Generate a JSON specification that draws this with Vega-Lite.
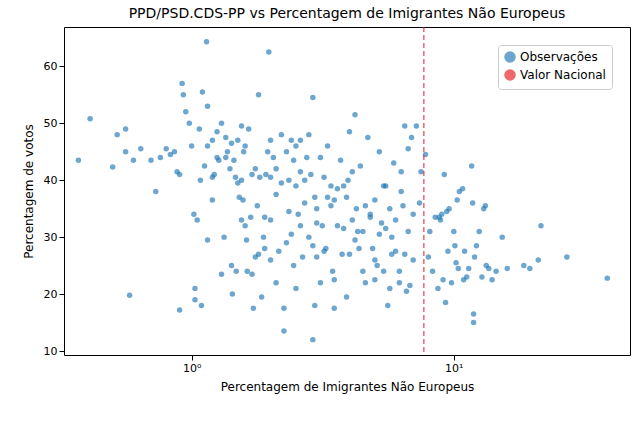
{
  "$schema": "https://vega.github.io/schema/vega-lite/v6.json",
  "width": 566,
  "height": 328,
  "padding": {"left": 22, "top": 6, "right": 8, "bottom": 4},
  "title": {"text": "PPD/PSD.CDS-PP vs Percentagem de Imigrantes Não Europeus", "font": "DejaVu Sans", "fontSize": 14, "fontWeight": "normal", "offset": 6},
  "config": {"view": {"stroke": "black"}, "axis": {"labelFont": "DejaVu Sans", "titleFont": "DejaVu Sans", "labelFontSize": 11, "titleFontSize": 12, "titleFontWeight": "normal", "grid": false, "domain": false, "tickColor": "black", "labelColor": "black", "titleColor": "black", "titlePadding": 8}},
  "layer": [
    {
      "data": {"values": [
        {"x":0.37,"y":43.5},{"x":0.41,"y":50.8},{"x":0.5,"y":42.3},{"x":0.52,"y":48},{"x":0.56,"y":45},{"x":0.56,"y":49},{"x":0.58,"y":19.8},{"x":0.6,"y":43.5},{"x":0.64,"y":45.5},{"x":0.7,"y":43.5},{"x":0.73,"y":38},{"x":0.76,"y":44},{"x":0.8,"y":45.5},{"x":0.83,"y":44.5},{"x":0.86,"y":45},{"x":0.88,"y":41.5},{"x":0.9,"y":17.2},{"x":0.9,"y":41},{"x":0.92,"y":57},{"x":0.93,"y":55},{"x":0.95,"y":52},{"x":0.98,"y":50},{"x":1.0,"y":46},{"x":1.02,"y":34},{"x":1.03,"y":21},{"x":1.03,"y":19},{"x":1.05,"y":33},{"x":1.07,"y":49},{"x":1.08,"y":40},{"x":1.09,"y":18},{"x":1.1,"y":55.5},{"x":1.12,"y":42.5},{"x":1.14,"y":64.3},{"x":1.15,"y":53},{"x":1.15,"y":29.5},{"x":1.2,"y":47},{"x":1.2,"y":40.5},{"x":1.22,"y":41},{"x":1.25,"y":44},{"x":1.27,"y":43.5},{"x":1.3,"y":50},{"x":1.3,"y":23.5},{"x":1.33,"y":30},{"x":1.35,"y":47.5},{"x":1.37,"y":45},{"x":1.4,"y":42},{"x":1.42,"y":25},{"x":1.43,"y":20},{"x":1.45,"y":43.5},{"x":1.48,"y":24},{"x":1.5,"y":39.5},{"x":1.52,"y":37},{"x":1.55,"y":49.5},{"x":1.55,"y":40},{"x":1.57,"y":36.5},{"x":1.6,"y":46},{"x":1.62,"y":29.5},{"x":1.63,"y":24},{"x":1.65,"y":49},{"x":1.68,"y":33.5},{"x":1.7,"y":23.5},{"x":1.72,"y":17.5},{"x":1.75,"y":26.5},{"x":1.78,"y":35.5},{"x":1.8,"y":55},{"x":1.82,"y":40.5},{"x":1.85,"y":19.5},{"x":1.88,"y":30},{"x":1.9,"y":28},{"x":1.92,"y":41},{"x":1.97,"y":62.5},{"x":2.0,"y":33},{"x":2.0,"y":47},{"x":2.05,"y":44},{"x":2.1,"y":22},{"x":2.1,"y":37.5},{"x":2.15,"y":27.5},{"x":2.2,"y":48},{"x":2.25,"y":13.5},{"x":2.25,"y":17.5},{"x":2.3,"y":29},{"x":2.35,"y":40},{"x":2.4,"y":47},{"x":2.45,"y":25},{"x":2.5,"y":39},{"x":2.5,"y":21},{"x":2.55,"y":34},{"x":2.6,"y":47},{"x":2.65,"y":26.5},{"x":2.7,"y":36},{"x":2.75,"y":44},{"x":2.8,"y":30},{"x":2.85,"y":41},{"x":2.9,"y":54.5},{"x":2.9,"y":12},{"x":2.95,"y":18},{"x":3.0,"y":35},{"x":3.0,"y":26.5},{"x":3.1,"y":22},{"x":3.15,"y":32},{"x":3.2,"y":40.5},{"x":3.25,"y":28},{"x":3.3,"y":46},{"x":3.4,"y":39},{"x":3.45,"y":24},{"x":3.5,"y":17.5},{"x":3.5,"y":36.5},{"x":3.6,"y":32},{"x":3.7,"y":43.5},{"x":3.75,"y":27},{"x":3.8,"y":39},{"x":3.9,"y":19.5},{"x":3.95,"y":40},{"x":4.0,"y":48.5},{"x":4.1,"y":33},{"x":4.2,"y":51.5},{"x":4.25,"y":35},{"x":4.35,"y":28},{"x":4.4,"y":42.5},{"x":4.5,"y":31},{"x":4.6,"y":22},{"x":4.7,"y":47.5},{"x":4.8,"y":34},{"x":4.9,"y":28},{"x":5.0,"y":36.5},{"x":5.1,"y":25},{"x":5.2,"y":45},{"x":5.3,"y":32.5},{"x":5.4,"y":24},{"x":5.5,"y":39},{"x":5.6,"y":18},{"x":5.7,"y":35},{"x":5.8,"y":30},{"x":5.9,"y":43},{"x":6.0,"y":27.5},{"x":6.2,"y":22},{"x":6.3,"y":41.5},{"x":6.4,"y":35.5},{"x":6.5,"y":49.5},{"x":6.6,"y":20.5},{"x":6.7,"y":31},{"x":6.9,"y":47.5},{"x":7.0,"y":26},{"x":7.2,"y":49.5},{"x":7.4,"y":36},{"x":7.5,"y":41.5},
        {"x":1.35,"y":44},{"x":1.42,"y":46.5},{"x":1.47,"y":40.5},{"x":1.5,"y":47},{"x":1.58,"y":45},{"x":1.7,"y":41},{"x":1.75,"y":42},{"x":1.95,"y":45},{"x":2.1,"y":42},{"x":2.2,"y":39.5},{"x":2.3,"y":45},{"x":2.45,"y":43.5},{"x":2.5,"y":46},{"x":2.6,"y":41.5},{"x":2.7,"y":40},{"x":2.8,"y":48},{"x":2.95,"y":37},{"x":3.1,"y":44},{"x":3.3,"y":37},{"x":3.4,"y":35.5},{"x":3.6,"y":38.5},{"x":3.9,"y":37},{"x":4.1,"y":41.5},{"x":4.3,"y":31},{"x":4.6,"y":35.5},{"x":4.8,"y":33.5},{"x":5.0,"y":26},{"x":5.2,"y":30.5},{"x":5.5,"y":31.5},{"x":5.8,"y":27},{"x":6.0,"y":33},{"x":6.3,"y":38},{"x":6.5,"y":27},{"x":7.0,"y":34},{"x":1.15,"y":46},{"x":1.25,"y":48.5},{"x":1.2,"y":36.5},{"x":1.6,"y":32},{"x":1.8,"y":27},{"x":2.0,"y":26},{"x":2.4,"y":30.5},{"x":2.6,"y":32},{"x":2.9,"y":28.5},{"x":3.2,"y":27.5},{"x":3.5,"y":22.5},{"x":3.8,"y":31.5},{"x":4.0,"y":27},{"x":4.5,"y":24},{"x":5.0,"y":22.5},{"x":5.7,"y":21},{"x":6.2,"y":24},{"x":6.8,"y":21.5},{"x":3.0,"y":32.5},{"x":2.35,"y":34.5},{"x":1.9,"y":33.5},{"x":4.2,"y":29.5},{"x":2.0,"y":40.5},{"x":1.55,"y":33},{"x":6.7,"y":45.5},{"x":5.4,"y":39},
        {"x":7.8,"y":44.5},{"x":8.0,"y":26.5},{"x":8.1,"y":31},{"x":8.3,"y":24},{"x":8.5,"y":33.5},{"x":8.7,"y":21},{"x":8.8,"y":33.5},{"x":9.0,"y":34},{"x":9.1,"y":22.5},{"x":9.2,"y":41},{"x":9.3,"y":18.5},{"x":9.4,"y":34.5},{"x":9.6,"y":35},{"x":9.8,"y":22},{"x":10.0,"y":31},{"x":10.1,"y":28.5},{"x":10.3,"y":36.5},{"x":10.4,"y":24.5},{"x":10.5,"y":38},{"x":10.8,"y":38.5},{"x":10.9,"y":22.5},{"x":11.2,"y":23},{"x":11.4,"y":24.5},{"x":11.7,"y":42.5},{"x":11.8,"y":36},{"x":11.9,"y":15},{"x":11.9,"y":16.5},{"x":12.0,"y":26.5},{"x":12.2,"y":28.5},{"x":12.5,"y":31},{"x":13.0,"y":35},{"x":13.2,"y":35.5},{"x":13.3,"y":25},{"x":13.6,"y":24.5},{"x":14.0,"y":22.5},{"x":14.5,"y":24},{"x":15.3,"y":30},{"x":16.0,"y":24.5},{"x":18.5,"y":25},{"x":19.5,"y":24.5},{"x":21.0,"y":26},{"x":21.5,"y":32},{"x":27.0,"y":26.5},{"x":38.5,"y":22.8},{"x":8.9,"y":33},{"x":10.2,"y":25.5},{"x":11.0,"y":27.5},{"x":12.8,"y":23},{"x":9.5,"y":27.5}
      ]},
      "mark": {"type": "circle", "size": 30, "opacity": 0.65},
      "encoding": {
        "x": {"field": "x", "type": "quantitative", "scale": {"type": "log", "domain": [0.326, 47], "nice": false},
          "axis": {"title": "Percentagem de Imigrantes Não Europeus", "values": [1, 10], "labelExpr": "datum.value == 1 ? '10⁰' : datum.value == 10 ? '10¹' : ''"}},
        "y": {"field": "y", "type": "quantitative", "scale": {"domain": [9.3, 66.9], "nice": false, "zero": false},
          "axis": {"title": "Percentagem de votos", "values": [10, 20, 30, 40, 50, 60]}},
        "color": {"datum": "Observações", "type": "nominal", "scale": {"domain": ["Observações", "Valor Nacional"], "range": ["#1f77b4", "#e41a1c"]},
          "legend": {"title": null, "orient": "top-right", "labelFont": "DejaVu Sans", "labelFontSize": 12, "strokeColor": "#cccccc", "padding": 6, "fillColor": "white", "cornerRadius": 3}}
      }
    },
    {
      "data": {"values": [{"v": 7.69}]},
      "mark": {"type": "rule", "strokeDash": [5, 3], "strokeWidth": 1},
      "encoding": {
        "x": {"field": "v", "type": "quantitative"},
        "color": {"datum": "Valor Nacional", "type": "nominal"}
      }
    }
  ]
}
